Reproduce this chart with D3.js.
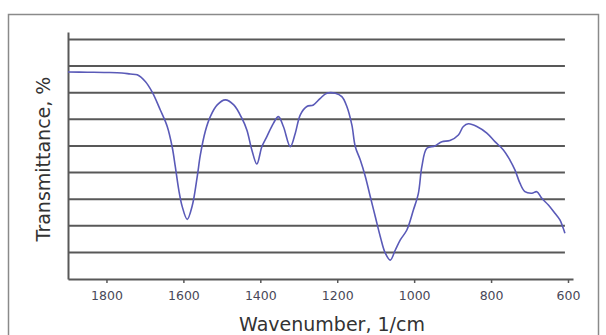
<!DOCTYPE html>
<html><head><meta charset="utf-8">
<script src="https://cdn.jsdelivr.net/npm/d3@7"></script>
<style>
html,body{margin:0;padding:0;background:#fff;}
svg{display:block;}
</style></head>
<body>
<svg id="chart" width="606" height="335"></svg>
<script>
const wavenumber = [1900,1850,1800,1760,1738,1720,1699,1681,1660,1642,1629,1621,1612,1603,1590,1577,1564,1556,1543,1530,1512,1491,1469,1448,1435,1422,1409,1396,1383,1366,1353,1340,1322,1309,1296,1279,1262,1244,1227,1205,1188,1175,1162,1153,1140,1127,1114,1101,1088,1075,1062,1049,1036,1019,1002,989,980,967,946,928,907,885,872,859,837,811,790,768,751,738,725,712,694,681,668,651,634,621,614,608];
const transmittance = [77.8,77.7,77.6,77.4,77.0,76.7,74.2,70.2,63.5,57.3,49.5,42.2,33.5,27.2,22.4,27.5,38.5,46.5,55.5,61.0,65.4,67.3,65.4,60.4,56.0,48.5,43.2,49.7,53.5,58.5,61.0,57.3,49.7,54.8,61.7,64.8,65.4,67.9,69.8,69.8,68.5,64.8,57.9,49.7,44.7,38.5,30.9,23.4,15.9,9.7,7.1,10.9,14.7,18.4,25.9,32.2,42.2,49.1,50.0,51.6,52.0,54.1,57.3,58.3,57.3,54.8,51.6,48.5,44.7,41.0,36.0,32.8,32.2,32.8,30.3,27.8,24.7,22.2,19.7,17.2];
const xTicks = [1800,1600,1400,1200,1000,800,600];
const gridValues = [10,20,30,40,50,60,70,80,90];
const xLabel = "Wavenumber, 1/cm";
const yLabel = "Transmittance, %";

const svg = d3.select("#chart");
svg.append("rect").attr("x",0).attr("y",0).attr("width",606).attr("height",335).attr("fill","#fff");
// outer frame
svg.append("rect").attr("x",8.5).attr("y",14.5).attr("width",590).attr("height",340)
  .attr("fill","none").attr("stroke","#8a8a8a").attr("stroke-width",1.5);

const x = d3.scaleLinear().domain([1900,587]).range([68,573]);
const y = d3.scaleLinear().domain([0,92.8]).range([279,32]);

// gridlines
svg.append("g").selectAll("line").data(gridValues).join("line")
  .attr("x1",x(1900)).attr("x2",x(608))
  .attr("y1",d=>y(d)).attr("y2",d=>y(d))
  .attr("stroke","#585858").attr("stroke-width",2);

// axes
const xAxis = d3.axisBottom(x).tickValues(xTicks).tickSize(4).tickSizeOuter(0).tickPadding(8).tickFormat(d3.format("d"));
const gx = svg.append("g").attr("transform","translate(0,279)").call(xAxis);
gx.select(".domain").attr("stroke","#585858").attr("stroke-width",2);
gx.selectAll(".tick line").attr("stroke","#585858").attr("stroke-width",1.5);
gx.selectAll(".tick text").attr("font-family","DejaVu Sans").attr("font-size",12.5).attr("fill","#484858");

const yAxis = d3.axisLeft(y).tickValues([]).tickSizeOuter(0);
const gy = svg.append("g").attr("transform","translate(68,0)").call(yAxis);
gy.select(".domain").attr("stroke","#585858").attr("stroke-width",2);

// curve
const line = d3.line().x((d,i)=>x(wavenumber[i])).y(d=>y(d)).curve(d3.curveCatmullRom.alpha(0.5));
svg.append("path").datum(transmittance).attr("d",line)
  .attr("fill","none").attr("stroke","#5a5ab8").attr("stroke-width",1.6);

// labels
svg.append("text").attr("x",332).attr("y",331).attr("text-anchor","middle")
  .attr("font-family","DejaVu Sans").attr("font-size",19).attr("fill","#333").text(xLabel);
svg.append("text").attr("transform","translate(50,159) rotate(-90)").attr("text-anchor","middle")
  .attr("font-family","DejaVu Sans").attr("font-size",19).attr("fill","#333").text(yLabel);
</script>
</body></html>
